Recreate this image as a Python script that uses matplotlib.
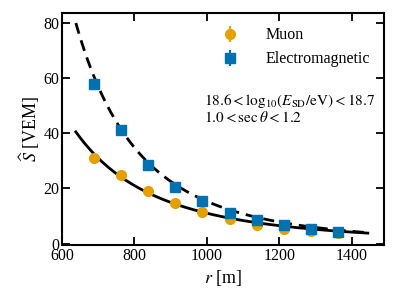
import numpy as np
import matplotlib
matplotlib.use("Agg")
import matplotlib.pyplot as plt

plt.rcParams["font.family"] = ["Liberation Serif", "DejaVu Serif"]
plt.rcParams["mathtext.fontset"] = "stix"
plt.rcParams["font.size"] = 11.5

# binned mean signals
r_bins = [688, 763, 838, 913, 988, 1063, 1138, 1213, 1288, 1363]
muon = [31.0, 24.7, 18.9, 14.6, 11.4, 9.0, 6.9, 5.4, 4.4, 3.8]
muon_err = [0.8, 0.6, 0.5, 0.4, 0.3, 0.3, 0.2, 0.2, 0.2, 0.2]
em = [57.7, 41.1, 28.6, 20.5, 15.4, 11.2, 8.6, 6.7, 5.2, 4.2]
em_err = [1.0, 0.8, 0.6, 0.5, 0.4, 0.3, 0.3, 0.2, 0.2, 0.2]

# power-law fit parameters (S1000, slope)
muon_fit = (11.0, -2.9)
em_fit = (15.3, -3.68)
fit_range = (638, 1445)

orange = "#E69F00"
blue = "#0072B2"

fig = plt.figure(figsize=(3.98, 3.02), dpi=100)
ax = fig.add_axes([0.156, 0.189, 0.809, 0.768])

r = np.linspace(*fit_range, 200)
ax.plot(r, muon_fit[0] * (r / 1000) ** muon_fit[1], color="black", lw=2)
ax.plot(r, em_fit[0] * (r / 1000) ** em_fit[1], color="black", lw=2, ls=(0, (4, 2.5)))

ax.errorbar(r_bins, muon, yerr=muon_err, fmt="o", color=orange, ms=7,
            elinewidth=1.5, capsize=0, label="Muon", zorder=3)
ax.errorbar(r_bins, em, yerr=em_err, fmt="s", color=blue, ms=7,
            elinewidth=1.5, capsize=0, label="Electromagnetic", zorder=3)

ax.text(0.442, 0.59,
        r"$18.6 < \mathrm{log}_{10}(E_\mathrm{SD}/\mathrm{eV}) < 18.7$" "\n"
        r"$1.0 < \sec\theta < 1.2$",
        transform=ax.transAxes, ha="left", va="center", fontsize=11,
        linespacing=1.0)

ax.set_xlim(600, 1490)
ax.set_ylim(-0.5, 83.6)
ax.set_xticks([600, 800, 1000, 1200, 1400])
ax.set_yticks([0, 20, 40, 60, 80])
ax.set_xlabel(r"$r$ [m]", fontsize=13, labelpad=3)
ax.set_ylabel(r"$\widehat{S}$ [VEM]", fontsize=13, labelpad=1)

ax.tick_params(direction="in", top=True, right=True, length=6, width=1.3,
               labelsize=11.5, pad=2)
for s in ax.spines.values():
    s.set_linewidth(1.5)

ax.legend(loc="upper right", frameon=False, fontsize=11.5, handlelength=1.0,
          handletextpad=1.7, labelspacing=0.5, bbox_to_anchor=(1.0, 1.0),
          borderaxespad=0.5)

fig.savefig("out.png", dpi=100)
